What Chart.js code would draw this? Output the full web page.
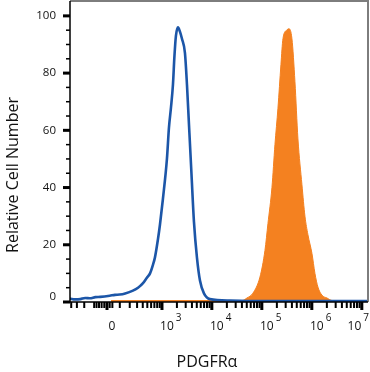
<!DOCTYPE html>
<html>
<head>
<meta charset="utf-8">
<script src="https://cdn.jsdelivr.net/npm/chart.js@4"></script>
<style>
    html, body { margin: 0; padding: 0; background: #fff; }
    #wrap { width: 370px; height: 372px; }
</style>
</head>
<body>
<div id="wrap"><canvas id="histChart"></canvas></div>
<script>
// --- DATA (intensity on the PDGFRα channel, relative cell number) ---
const blueIntensity = [-425, -330, -250, -190, -140, -90, -50, 20, 60, 100, 150, 240, 315, 405, 490, 570, 655, 720, 830, 910,
    1045, 1260, 1385, 1520, 1665, 1785, 1910, 2100, 2300, 2525, 2900, 3180, 3490, 3910, 4390, 5040, 5790,
    6960, 9170, 23000, 100000, 1000000, 13300000];
const blueCount = [1.2, 0.9, 1.0, 1.4, 1.3, 1.7, 1.8, 2.2, 2.5, 2.6, 3.0, 4.0, 5.0, 6.6, 8.5, 10, 13, 15.6, 22, 27,
    36, 50, 61, 68, 76, 86, 93, 96, 94.5, 92, 87, 76, 62, 45, 28, 15.5, 7.5,
    3, 1.0, 0.5, 0.3, 0.3, 0.3];

const orangeIntensity = [30, 40000, 50400, 66500, 91700, 115500, 132600, 159400, 183000, 210100, 241300,
    264600, 318100, 348800, 400400, 459800, 527900, 634600, 728700, 836600, 1005900, 1154900, 1326000,
    1594000, 2007000, 2600000, 13300000];
const orangeCount = [0.5, 0.5, 1.4, 3.1, 8.7, 18, 27.4, 40, 55, 67.7,
    83, 92, 95.1, 95.5, 92, 77, 57, 41, 30, 23.5, 17, 10,
    5.2, 2.4, 1.4, 0.5, 0.5];

const xRange = [-425, 13300000];
const yRange = [0, 105.2];

const yTicksMajor = [0, 20, 40, 60, 80, 100];
const yTicksMinor = [5, 10, 15, 25, 30, 35, 45, 50, 55, 65, 70, 75, 85, 90, 95];
const xTicksMajor = [0, 1e3, 1e4, 1e5, 1e6, 1e7];
const xTickExponents = ['', '3', '4', '5', '6', '7'];
const xTicksMinorLinear = [-400, -300, -200, -100, -80, -60, -40, -20, 20, 40, 100, 200, 300, 400, 500, 600, 700, 800, 900];

const xTitle = 'PDGFRα';
const yTitle = 'Relative Cell Number';

// --- biexponential-like display transform (same as the cytometer axis) ---
const W = 80;
const toDisplay = (v) => Math.asinh(v / (2 * W)) / Math.LN10;

// minor ticks inside each decade (2..9 x 10^k)
const xTicksMinor = [...xTicksMinorLinear];
for (let k = 3; k < 7; k++) {
    for (let m = 2; m <= 9; m++) xTicksMinor.push(m * Math.pow(10, k));
}

const FONT = '"Open Sans", "DejaVu Sans", sans-serif';
const TEXT = '#111';

// axes, ticks and labels drawn like the cytometer export
const flowAxes = {
    id: 'flowAxes',
    afterDatasetsDraw(chart) {
        const { ctx, chartArea: a, scales: { x, y } } = chart;
        ctx.save();

        // gray frame top / right
        ctx.strokeStyle = '#7d7d7d';
        ctx.lineWidth = 2;
        ctx.beginPath();
        ctx.moveTo(a.left, a.top);
        ctx.lineTo(a.right, a.top);
        ctx.lineTo(a.right, a.bottom);
        ctx.stroke();

        // black axes left / bottom
        ctx.strokeStyle = '#000';
        ctx.lineWidth = 1.5;
        ctx.beginPath();
        ctx.moveTo(a.left, a.top);
        ctx.lineTo(a.left, a.bottom);
        ctx.lineTo(a.right, a.bottom);
        ctx.stroke();

        ctx.fillStyle = '#000';
        // y ticks
        yTicksMajor.forEach(v => {
            const py = y.getPixelForValue(v);
            ctx.fillRect(a.left - 7, py - 1.5, 7, 3);
        });
        yTicksMinor.forEach(v => {
            const py = y.getPixelForValue(v);
            ctx.fillRect(a.left - 4, py - 0.75, 4, 1.5);
        });
        // x ticks
        xTicksMinor.forEach(v => {
            const px = x.getPixelForValue(toDisplay(v));
            if (px < a.left || px > a.right) return;
            ctx.fillRect(px - 1, a.bottom, 2, 6);
        });
        xTicksMajor.forEach(v => {
            const px = x.getPixelForValue(toDisplay(v));
            if (px < a.left || px > a.right + 1) return;
            ctx.fillRect(px - 1.5, a.bottom, 3, 8);
        });

        // y labels
        ctx.fillStyle = TEXT;
        ctx.font = `11.5px ${FONT}`;
        ctx.textAlign = 'right';
        ctx.textBaseline = 'middle';
        yTicksMajor.forEach(v => {
            let py = y.getPixelForValue(v);
            if (v === 0) py -= 5;
            ctx.fillText(String(v), a.left - 14, py);
        });

        // x labels: 0, 10^3 ... 10^7
        const W_ = chart.width;
        xTicksMajor.forEach((v, i) => {
            const px = x.getPixelForValue(toDisplay(v));
            const cx = px + 5;
            const ly = a.bottom + 25;
            ctx.textBaseline = 'middle';
            if (v === 0) {
                ctx.font = `12px ${FONT}`;
                ctx.textAlign = 'center';
                ctx.fillText('0', cx, ly);
                return;
            }
            ctx.font = `12px ${FONT}`;
            const baseW = ctx.measureText('10').width;
            ctx.font = `10px ${FONT}`;
            const expW = ctx.measureText(xTickExponents[i]).width;
            let left = cx - baseW / 2;
            const right = left + baseW + 2 + expW;
            if (right > W_ - 1) left -= right - (W_ - 1);
            ctx.textAlign = 'left';
            ctx.font = `12px ${FONT}`;
            ctx.fillText('10', left, ly);
            ctx.font = `10px ${FONT}`;
            ctx.fillText(xTickExponents[i], left + baseW + 2, ly - 9);
        });

        // axis titles
        ctx.font = `16px ${FONT}`;
        ctx.textAlign = 'center';
        ctx.textBaseline = 'middle';
        ctx.fillText(xTitle, 207, 362);
        ctx.save();
        ctx.translate(13, 175);
        ctx.rotate(-Math.PI / 2);
        ctx.fillText(yTitle, 0, 0);
        ctx.restore();

        ctx.restore();
    }
};

const toPoints = (xs, ys) => xs.map((v, i) => ({ x: toDisplay(v), y: ys[i] }));

new Chart(document.getElementById('histChart').getContext('2d'), {
    type: 'line',
    data: {
        datasets: [
            {
                label: 'Isotype control',
                data: toPoints(blueIntensity, blueCount),
                borderColor: '#1c56a8',
                borderWidth: 2.6,
                pointRadius: 0,
                fill: false,
                cubicInterpolationMode: 'monotone'
            },
            {
                label: 'PDGFRα',
                data: toPoints(orangeIntensity, orangeCount),
                borderColor: '#f48120',
                backgroundColor: '#f48120',
                borderWidth: 1,
                pointRadius: 0,
                fill: 'origin',
                cubicInterpolationMode: 'monotone'
            }
        ]
    },
    options: {
        responsive: true,
        maintainAspectRatio: false,
        animation: false,
        layout: { padding: { top: 1, right: 2, left: 0, bottom: 0 } },
        plugins: {
            legend: { display: false },
            tooltip: { enabled: false }
        },
        scales: {
            x: {
                type: 'linear',
                min: toDisplay(xRange[0]),
                max: toDisplay(xRange[1]),
                grid: { display: false },
                border: { display: false },
                ticks: { display: false },
                afterFit: (scale) => { scale.height = 70; }
            },
            y: {
                type: 'linear',
                min: yRange[0],
                max: yRange[1],
                grid: { display: false },
                border: { display: false },
                ticks: { display: false },
                afterFit: (scale) => { scale.width = 70; }
            }
        }
    },
    plugins: [flowAxes]
});
</script>
</body>
</html>
